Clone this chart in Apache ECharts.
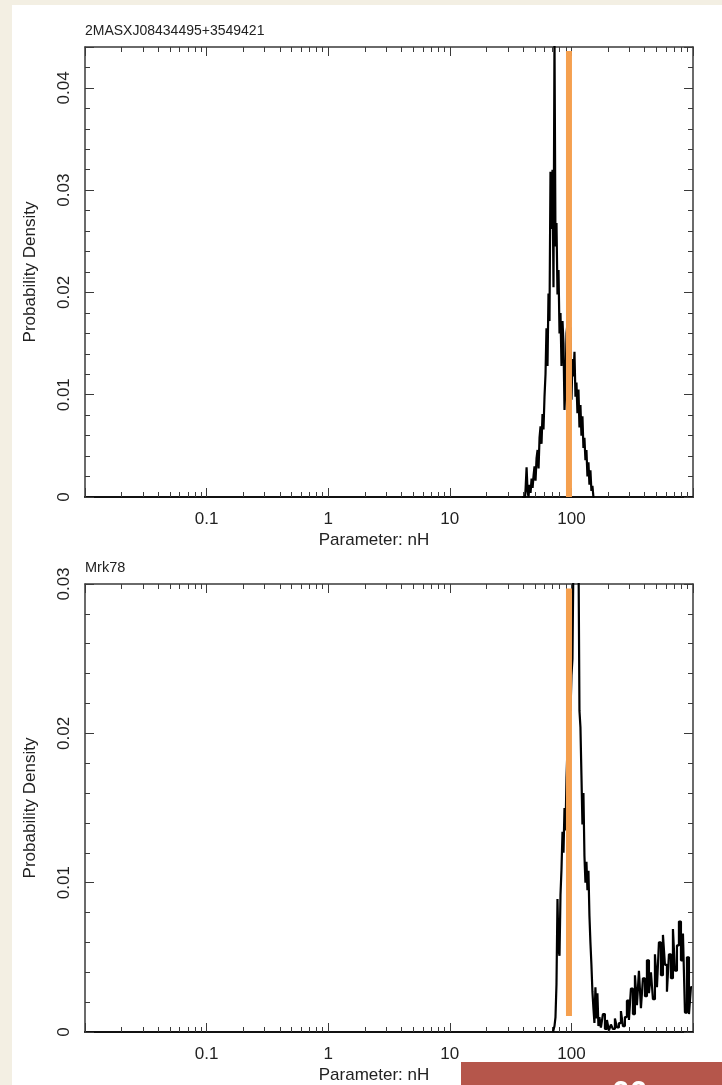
<!DOCTYPE html>
<html>
<head>
<meta charset="utf-8">
<script src="https://cdn.jsdelivr.net/npm/echarts@6/dist/echarts.min.js"></script>
<style>
html,body{margin:0;padding:0;background:#fff;}
#chart{width:722px;height:1085px;}
</style>
</head>
<body>
<div id="chart"></div>
<script>
// 上图：2MASXJ08434495+3549421 的 nH 概率密度
var topNH = [39.3,40.0,40.8,41.6,42.4,43.2,44.0,44.8,45.7,46.6,47.5,48.4,49.3,50.2,51.2,52.2,53.2,54.2,55.2,56.3,
    57.3,58.4,59.5,60.7,61.8,63.0,64.2,65.4,66.7,67.9,69.2,70.6,71.9,73.3,74.7,76.1,77.6,79.1,80.6,82.1,
    83.7,85.3,86.9,88.6,90.3,92.0,93.7,95.5,97.4,99.2,101.1,103.0,105.0,107.0,109.0,111.1,113.2,115.4,117.6,119.8,
    122.1,124.4,126.8,129.2,131.7,134.2,136.8,139.4,142.0,144.7,147.5,150.3,153.2,156.1];
var topDensity = [0,0,0,0,0.0008,0.0029,0.0006,0,0.0012,0.0004,
    0.0018,0.0009,0.0021,0.0030,0.0016,0.0038,0.0046,0.0028,0.0058,0.0069,
    0.0052,0.0081,0.0066,0.0098,0.0120,0.0165,0.0128,0.0199,0.0172,0.0318,
    0.0262,0.0320,0.0205,0.0450,0.0245,0.0268,0.0198,0.0222,0.0160,0.0180,
    0.0128,0.0172,0.0150,0.0085,0.0110,0.0160,0.0170,0.0120,0.0148,0.0166,
    0.0095,0.0135,0.0118,0.0142,0.0098,0.0112,0.0082,0.0105,0.0068,0.0090,
    0.0060,0.0079,0.0048,0.0058,0.0036,0.0046,0.0020,0.0034,0.0012,0.0026,
    0.0006,0.0011,0,0];

// 下图：Mrk78
var botNH = [70.6,71.9,73.3,74.7,76.1,77.6,79.1,80.6,82.1,83.7,85.3,86.9,88.6,90.3,92.0,93.7,95.5,97.4,99.2,101.1,
    103.0,105.0,107.0,109.0,111.1,113.2,115.4,117.6,119.8,122.1,124.4,126.8,129.2,131.7,134.2,136.8,139.4,142.0,144.7,147.5,
    150.3,153.2,156.1,159.1,162.1,165.2,168.4,171.6,
    178.2,185.1,192.3,199.7,207.4,215.4,223.7,232.4,241.3,250.7,260.3,270.4,280.8,291.7,302.9,314.6,326.8,339.4,352.5,366.1,
    380.2,394.9,410.2,426.0,442.5,459.5,477.3,495.7,514.8,534.7,555.4,576.8,599.1,622.2,646.2,671.2,697.1,724.0,752.0,781.0,
    811.2,842.5,875.0,908.8,943.9,980.3];
var botDensity = [0,0,0.0004,0.0010,0.0032,0.0089,0.0055,0.0051,0.0092,0.0109,
    0.0134,0.0120,0.0150,0.0135,0.0170,0.0190,0.0205,0.0225,0.0215,0.0239,
    0.0250,0.0320,0.0325,0.0322,0.0330,0.0318,0.0326,0.0215,0.0204,0.0172,
    0.0139,0.0160,0.0118,0.0100,0.0114,0.0095,0.0108,0.0078,0.0060,0.0045,
    0.0027,0.0016,0.0006,0.0030,0.0009,0.0026,0.0004,0.0010,
    0.0003,0.0012,0.0002,0.0008,0.0001,0.0005,0.0002,0.0009,0.0003,0.0006,
    0.0014,0.0004,0.0010,0.0021,0.0008,0.0029,0.0012,0.0038,0.0018,0.0041,
    0.0016,0.0036,0.0024,0.0048,0.0026,0.0040,0.0022,0.0052,0.0030,0.0060,
    0.0038,0.0065,0.0045,0.0027,0.0052,0.0036,0.0069,0.0041,0.0058,0.0074,
    0.0048,0.0066,0.0013,0.0050,0.0012,0.0030];

// 橙色竖线 (nH) 及其上下端 (密度)
var orangeNH = 95.5;
var topOrange = [0.0436, 0];
var botOrange = [0.0297, 0.00107];

// 坐标轴刻度
var xMin = 0.01, xMax = 1000;
var xTickValues = [0.1, 1, 10, 100];
var xTickLabels = ['0.1', '1', '10', '100'];
var xMinorValues = [0.02,0.03,0.04,0.05,0.06,0.07,0.08,0.09,
    0.2,0.3,0.4,0.5,0.6,0.7,0.8,0.9,
    2,3,4,5,6,7,8,9,
    20,30,40,50,60,70,80,90,
    200,300,400,500,600,700,800,900];
var topYMax = 0.044;
var topYTicks = [0, 0.01, 0.02, 0.03, 0.04];
var topYLabels = ['0', '0.01', '0.02', '0.03', '0.04'];
var botYMax = 0.03;
var botYTicks = [0, 0.01, 0.02, 0.03];
var botYLabels = ['0', '0.01', '0.02', '0.03'];

var FONT = 'Liberation Sans, Arial, Helvetica, sans-serif';
var TXT = '#222';
var FRAME = '#3a3a3a';

function pair(xs, ys) {
    var out = [];
    for (var i = 0; i < xs.length; i++) out.push([xs[i], ys[i]]);
    return out;
}

function fmtX(v) {
    for (var i = 0; i < xTickValues.length; i++) {
        if (Math.abs(Math.log10(v) - Math.log10(xTickValues[i])) < 1e-6) return xTickLabels[i];
    }
    return '';
}

function makeFmtY(ticks, labels) {
    return function (v) {
        for (var i = 0; i < ticks.length; i++) {
            if (Math.abs(v - ticks[i]) < 1e-9) return labels[i];
        }
        return '';
    };
}

var minorLog = xMinorValues.map(function (v) { return Math.log10(v); });

function xAxesFor(gi) {
    var tickStyle = {color: FRAME, width: 1};
    return [
        {type: 'log', logBase: 10, gridIndex: gi, position: 'bottom', min: xMin, max: xMax,
            axisLine: {show: true, onZero: false, lineStyle: {color: '#111', width: 2}},
            axisTick: {show: true, inside: true, length: 9, lineStyle: tickStyle},
            axisLabel: {show: true, margin: 14, color: TXT, fontSize: 17, fontFamily: FONT, formatter: fmtX},
            splitLine: {show: false},
            name: 'Parameter: nH', nameLocation: 'middle', nameGap: 35,
            nameTextStyle: {color: TXT, fontSize: 17, fontFamily: FONT, padding: [0, 30, 0, 0]}},
        {type: 'value', gridIndex: gi, position: 'bottom', min: -2, max: 3,
            axisLine: {show: false, onZero: false},
            axisTick: {show: true, inside: true, length: 5, customValues: minorLog, lineStyle: tickStyle},
            axisLabel: {show: false}, splitLine: {show: false}},
        {type: 'log', logBase: 10, gridIndex: gi, position: 'top', min: xMin, max: xMax,
            axisLine: {show: true, onZero: false, lineStyle: {color: FRAME, width: 1.5}},
            axisTick: {show: true, inside: true, length: 9, lineStyle: tickStyle},
            axisLabel: {show: false}, splitLine: {show: false}},
        {type: 'value', gridIndex: gi, position: 'top', min: -2, max: 3,
            axisLine: {show: false, onZero: false},
            axisTick: {show: true, inside: true, length: 5, customValues: minorLog, lineStyle: tickStyle},
            axisLabel: {show: false}, splitLine: {show: false}}
    ];
}

function yAxesFor(gi, yMax, ticks, labels) {
    var tickStyle = {color: FRAME, width: 1};
    return [
        {type: 'value', gridIndex: gi, position: 'left', min: 0, max: yMax, interval: 0.01,
            axisLine: {show: true, onZero: false, lineStyle: {color: FRAME, width: 1.5}},
            axisTick: {show: true, inside: true, length: 9, lineStyle: tickStyle},
            axisLabel: {show: true, rotate: 90, margin: 12, color: TXT, fontSize: 17, fontFamily: FONT,
                formatter: makeFmtY(ticks, labels)},
            splitLine: {show: false},
            name: 'Probability Density', nameLocation: 'middle', nameGap: 46,
            nameTextStyle: {color: TXT, fontSize: 17, fontFamily: FONT}},
        {type: 'value', gridIndex: gi, position: 'left', min: 0, max: yMax, interval: 0.002,
            axisLine: {show: false, onZero: false},
            axisTick: {show: true, inside: true, length: 5, lineStyle: tickStyle},
            axisLabel: {show: false}, splitLine: {show: false}},
        {type: 'value', gridIndex: gi, position: 'right', min: 0, max: yMax, interval: 0.01,
            axisLine: {show: true, onZero: false, lineStyle: {color: FRAME, width: 1.5}},
            axisTick: {show: true, inside: true, length: 9, lineStyle: tickStyle},
            axisLabel: {show: false}, splitLine: {show: false}},
        {type: 'value', gridIndex: gi, position: 'right', min: 0, max: yMax, interval: 0.002,
            axisLine: {show: false, onZero: false},
            axisTick: {show: true, inside: true, length: 5, lineStyle: tickStyle},
            axisLabel: {show: false}, splitLine: {show: false}}
    ];
}

var myChart = echarts.init(document.getElementById('chart'), null, {renderer: 'canvas'});

var option = {
    backgroundColor: '#ffffff',
    animation: false,
    title: [
        {text: '2MASXJ08434495+3549421', left: 85, top: 24, padding: 0,
            textStyle: {color: TXT, fontSize: 14, fontWeight: 'normal', fontFamily: FONT}},
        {text: 'Mrk78', left: 85, top: 560, padding: 0,
            textStyle: {color: TXT, fontSize: 14.5, fontWeight: 'normal', fontFamily: FONT}}
    ],
    grid: [
        {left: 85, top: 47, width: 608, height: 450},
        {left: 85, top: 584, width: 608, height: 450}
    ],
    xAxis: xAxesFor(0).concat(xAxesFor(1)),
    yAxis: yAxesFor(0, topYMax, topYTicks, topYLabels).concat(yAxesFor(1, botYMax, botYTicks, botYLabels)),
    graphic: [
        {type: 'rect', left: 0, top: 0, shape: {width: 12, height: 1085}, style: {fill: '#f3efe3'}, silent: true},
        {type: 'rect', left: 0, top: 0, shape: {width: 722, height: 5}, style: {fill: '#f3efe3'}, silent: true},
        {type: 'rect', left: 461, top: 1062, shape: {width: 261, height: 23}, style: {fill: '#b5564b'}, silent: true},
        {type: 'text', left: 612, top: 1078, style: {text: '00', fill: '#ffffff', font: 'bold 32px ' + FONT}, silent: true}
    ],
    series: [
        {type: 'line', xAxisIndex: 0, yAxisIndex: 0, step: 'middle', showSymbol: false, clip: true,
            lineStyle: {color: '#000', width: 2.2}, data: pair(topNH, topDensity), z: 3},
        {type: 'line', xAxisIndex: 0, yAxisIndex: 0, showSymbol: false, clip: true,
            lineStyle: {color: '#f5a04f', width: 6, cap: 'butt'},
            data: [[orangeNH, topOrange[0]], [orangeNH, topOrange[1]]], z: 4},
        {type: 'line', xAxisIndex: 4, yAxisIndex: 4, step: 'middle', showSymbol: false, clip: true,
            lineStyle: {color: '#000', width: 2.2}, data: pair(botNH, botDensity), z: 3},
        {type: 'line', xAxisIndex: 4, yAxisIndex: 4, showSymbol: false, clip: true,
            lineStyle: {color: '#f5a04f', width: 6, cap: 'butt'},
            data: [[orangeNH, botOrange[0]], [orangeNH, botOrange[1]]], z: 4}
    ]
};

myChart.setOption(option);
</script>
</body>
</html>
